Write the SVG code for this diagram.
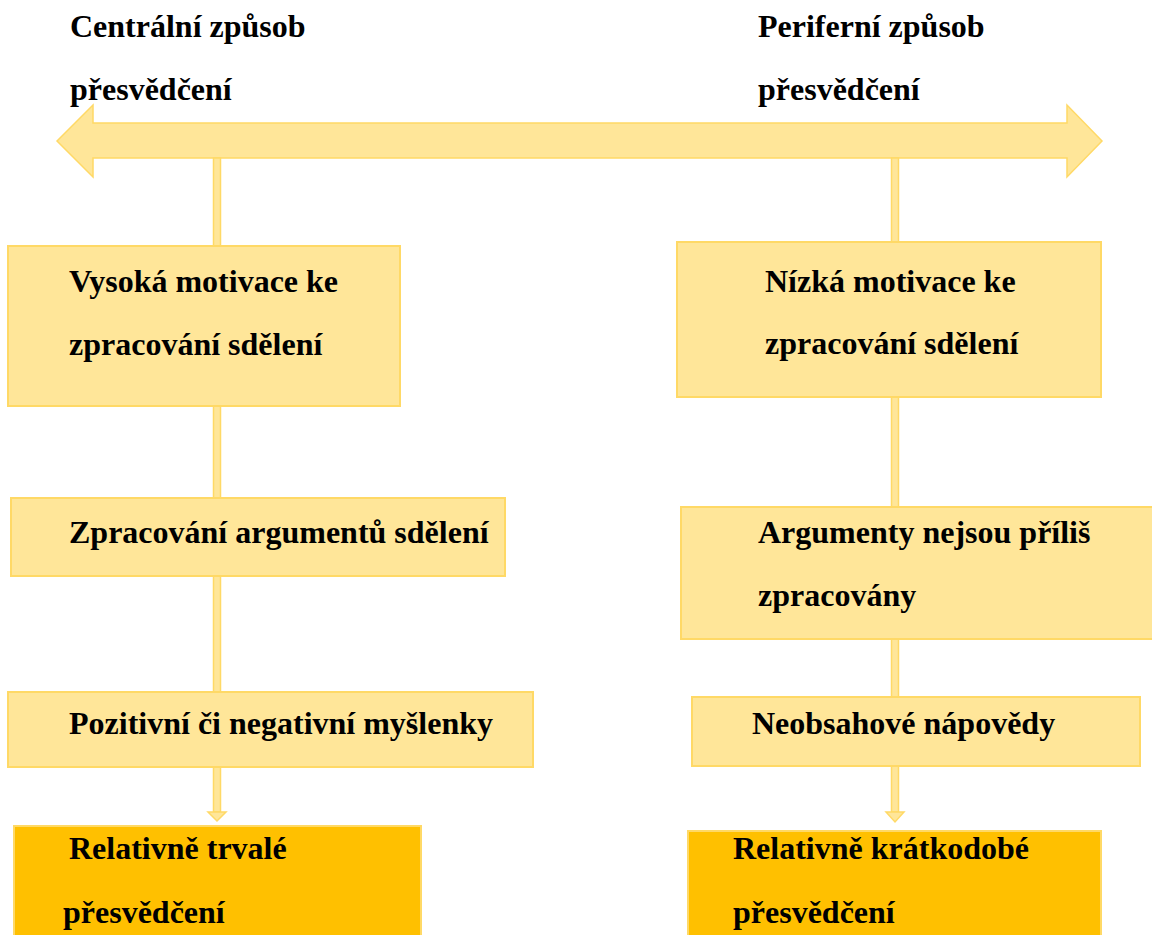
<svg xmlns="http://www.w3.org/2000/svg" width="1152" height="935" viewBox="0 0 1152 935">
<style>
  .t { font-family: 'Liberation Serif', 'Times New Roman', Tinos, 'Noto Serif', 'DejaVu Serif', serif; font-weight: 700; font-size: 32px; fill: #000; }
  .box { fill: #FFE699; stroke: #FFD966; stroke-width: 2; }
  .dark { fill: #FFC000; stroke: #FFD966; stroke-width: 2; }
  .conn { fill: #FFE699; stroke: #FFD966; stroke-width: 1.5; }
</style>
<rect width="1152" height="935" fill="#fff"/>

<g id="axis">
  <polygon class="conn" stroke-width="2" points="57,141 93,105 93,123 1067,123 1067,105 1102,141 1067,177 1067,158 93,158 93,177"/>
</g>

<g id="connectors">
  <rect class="conn" x="213.5" y="158" width="7" height="88"/>
  <rect class="conn" x="213.5" y="406" width="7" height="92"/>
  <rect class="conn" x="213.5" y="576" width="7" height="116"/>
  <rect class="conn" x="213.5" y="767" width="7" height="45"/>
  <polygon class="conn" points="208,812 226,812 217,821"/>
  <rect class="conn" x="891.5" y="158" width="7" height="84"/>
  <rect class="conn" x="891.5" y="397" width="7" height="110"/>
  <rect class="conn" x="891.5" y="639" width="7" height="58"/>
  <rect class="conn" x="891.5" y="766" width="7" height="46"/>
  <polygon class="conn" points="886,812 904,812 895,822"/>
</g>

<g id="label-central">
  <text class="t" font-family="Liberation Serif" x="70" y="37">Centrální způsob</text>
  <text class="t" font-family="Liberation Serif" x="70" y="100">přesvědčení</text>
</g>
<g id="label-peripheral">
  <text class="t" x="758" y="37">Periferní způsob</text>
  <text class="t" x="758" y="100">přesvědčení</text>
</g>

<g id="high-motivation">
  <rect class="box" x="8" y="246" width="392" height="160"/>
  <text class="t" x="69" y="292">Vysoká motivace ke</text>
  <text class="t" x="69" y="355">zpracování sdělení</text>
</g>
<g id="low-motivation">
  <rect class="box" x="677" y="242" width="424" height="155"/>
  <text class="t" x="765" y="292">Nízká motivace ke</text>
  <text class="t" x="765" y="354">zpracování sdělení</text>
</g>

<g id="processing-args">
  <rect class="box" x="11" y="498" width="494" height="78"/>
  <text class="t" x="69" y="543">Zpracování argumentů sdělení</text>
</g>
<g id="args-not-processed">
  <rect class="box" x="681" y="507" width="475" height="132"/>
  <text class="t" x="758" y="543">Argumenty nejsou příliš</text>
  <text class="t" x="758" y="606">zpracovány</text>
</g>

<g id="thoughts">
  <rect class="box" x="8" y="692" width="525" height="75"/>
  <text class="t" x="69" y="734">Pozitivní či negativní myšlenky</text>
</g>
<g id="cues">
  <rect class="box" x="692" y="697" width="448" height="69"/>
  <text class="t" x="752" y="734">Neobsahové nápovědy</text>
</g>

<g id="lasting">
  <rect class="dark" x="14" y="826" width="407" height="120"/>
  <text class="t" x="69" y="859">Relativně trvalé</text>
  <text class="t" x="63" y="923">přesvědčení</text>
</g>
<g id="short-term">
  <rect class="dark" x="688" y="831" width="413" height="115"/>
  <text class="t" x="733" y="859">Relativně krátkodobé</text>
  <text class="t" x="733" y="923">přesvědčení</text>
</g>
</svg>
